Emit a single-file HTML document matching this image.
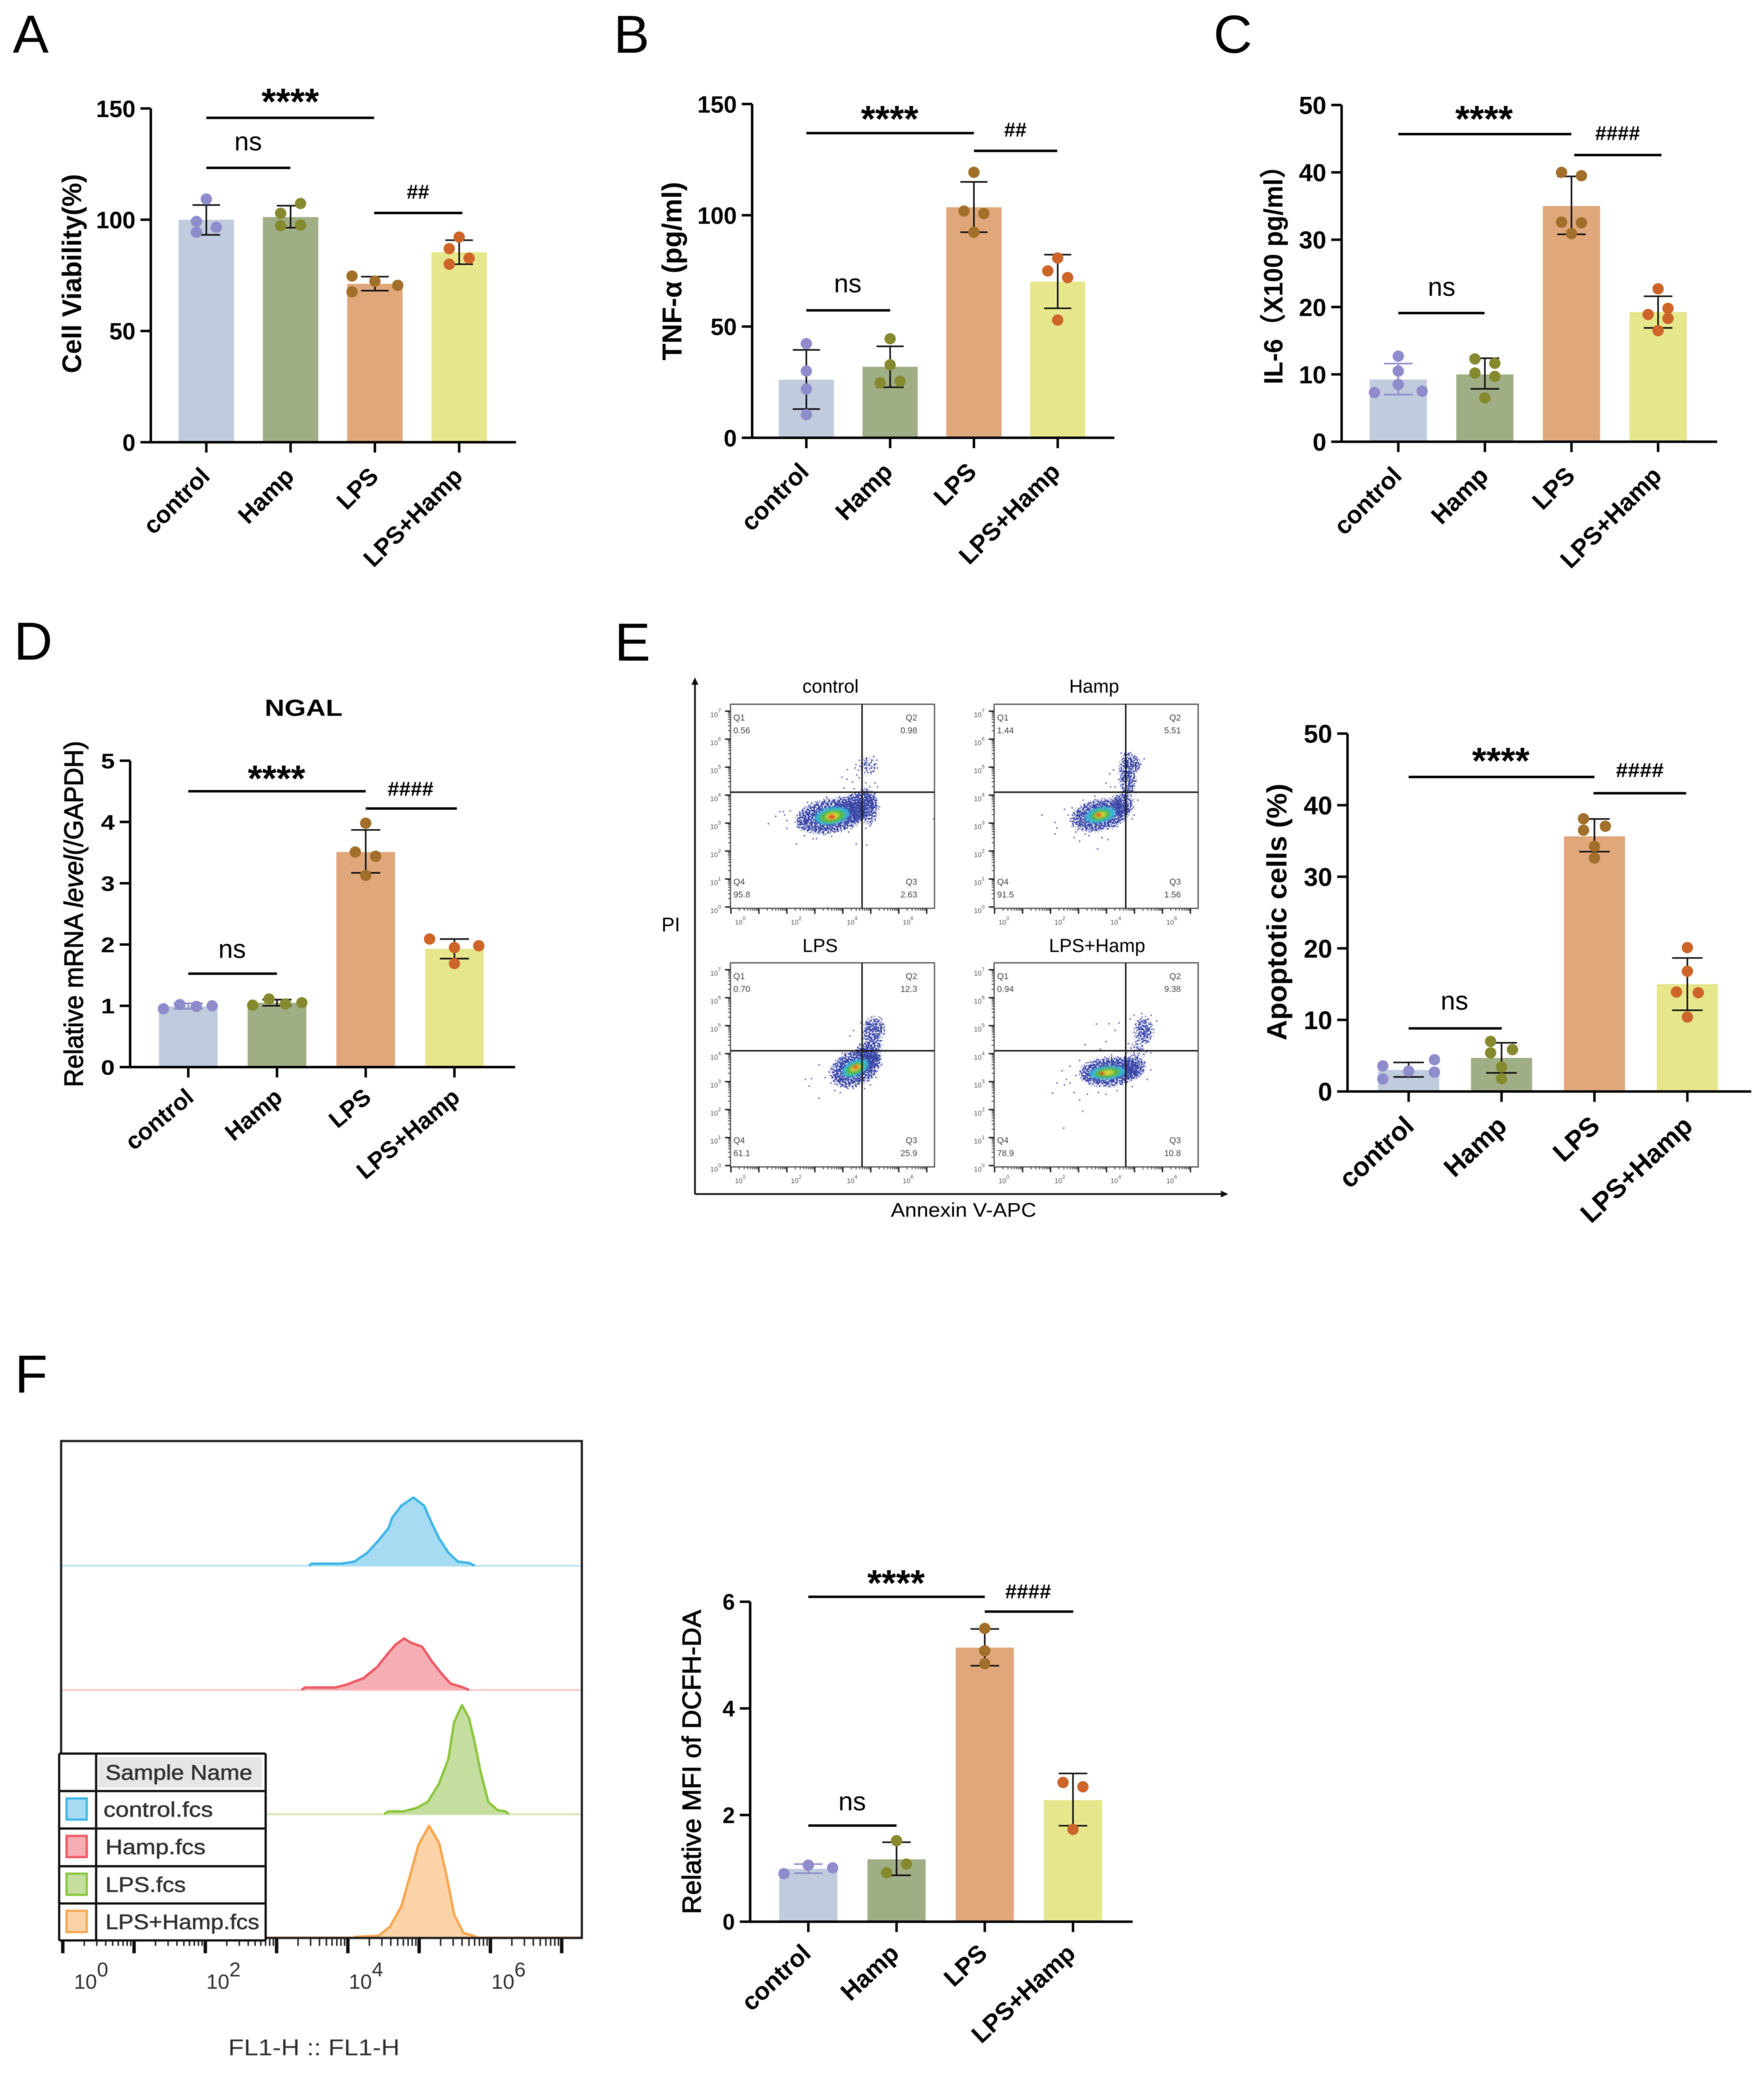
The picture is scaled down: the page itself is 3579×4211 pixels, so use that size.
<!DOCTYPE html>
<html lang="en">
<head>
<meta charset="utf-8">
<title>Multi-panel figure</title>
<style>
html,body{margin:0;padding:0;background:#fff}
svg{display:block;filter:blur(0.6px)}
text{font-family:"Liberation Sans","Noto Sans CJK SC",sans-serif}
</style>
</head>
<body>
<svg id="figure" xmlns="http://www.w3.org/2000/svg" width="3579" height="4211" viewBox="0 0 3579 4211">
<defs>
<filter id="speckle" x="-60%" y="-60%" width="220%" height="220%" color-interpolation-filters="sRGB">
<feGaussianBlur in="SourceAlpha" stdDeviation="8" result="soft"/>
<feTurbulence type="fractalNoise" baseFrequency="0.3" numOctaves="2" seed="4" result="noise"/>
<feColorMatrix in="noise" type="matrix" values="0 0 0 0 0  0 0 0 0 0  0 0 0 0 0  0 0 0 2.4 -0.7" result="grain"/>
<feComposite in="soft" in2="grain" operator="in" result="mixed"/>
<feColorMatrix in="mixed" type="matrix" values="0 0 0 0 0  0 0 0 0 0  0 0 0 0 0  0 0 0 10 -2.2" result="mask"/>
<feFlood flood-color="#3a46a8" result="ink"/>
<feComposite in="ink" in2="mask" operator="in"/>
</filter>
<filter id="soft-core" x="-60%" y="-60%" width="220%" height="220%"><feGaussianBlur stdDeviation="2.5"/></filter>
</defs>
<rect width="3579" height="4211" fill="#fff"/>
<text x="26" y="107" font-size="109">A</text>
<text x="1245" y="107" font-size="109">B</text>
<text x="2462" y="107" font-size="109">C</text>
<text x="28" y="1338" font-size="109">D</text>
<text x="1247" y="1340" font-size="109">E</text>
<text x="30" y="2825" font-size="109">F</text>
</svg>
<script>
// ---------- shared categories / colours ----------
const categories = ['control', 'Hamp', 'LPS', 'LPS+Hamp'];
const barColors = ['#c0cbdd', '#a0ae86', '#e0a77b', '#e6e68c'];
const dotColors = ['#8e8ccb', '#868a2f', '#a26f2a', '#cd6529'];

// ---------- panel A: cell viability ----------
const aTicks = [0, 50, 100, 150];
const aMeans = [100, 101.2, 71.2, 85.4];
const aLow = [93.2, 96.4, 68.1, 80];
const aHigh = [106.6, 106.3, 74.4, 90.8];
const aPoints = [[109.3, 99.2, 96.6, 94.4], [107.3, 102.9, 97.3, 97.6], [74.7, 72.4, 70.5, 67.6], [92.2, 87, 82.7, 80]];
const aSpread = [[0, -1, 1, -1], [1, -1, -1, 1], [-2.3, 0, 2.3, -2.3], [0, -1, 1, -1]];

// ---------- panel B: TNF-alpha ----------
const bTicks = [0, 50, 100, 150];
const bMeans = [26.1, 31.9, 103.6, 70.2];
const bLow = [12.9, 22.7, 92.4, 58.2];
const bHigh = [39.5, 41.1, 115, 82.3];
const bPoints = [[42.3, 30, 21.9, 10.4], [44.5, 32.8, 24.7, 25.4], [119.3, 101.9, 100.8, 92.4], [80.8, 75, 72, 52.9]];
const bSpread = [[0, 0, 0, 0], [0, 0, -1, 1], [0, -1, 1, 0], [0, -1, 1, 0]];

// ---------- panel C: IL-6 ----------
const cTicks = [0, 10, 20, 30, 40, 50];
const cMeans = [9.24, 10, 35, 19.25];
const cLow = [7, 7.85, 30.8, 16.9];
const cHigh = [11.6, 12.4, 39.4, 21.6];
const cPoints = [[12.7, 10.5, 8.5, 7.3, 7.5], [12.3, 11.65, 10.2, 9.7, 6.5], [40, 39.5, 32.6, 32.5, 30.9], [22.7, 19.8, 18.9, 18.3, 16.5]];
const cSpread = [[0, 0, 0, -2.4, 2.4], [-1, 1, -1, 1, 0], [-1, 1, -1, 1, 0], [0, 1, -1, 1, 0]];

// ---------- panel D: NGAL ----------
const dTicks = [0, 1, 2, 3, 4, 5];
const dMeans = [0.99, 1.05, 3.51, 1.93];
const dLow = [0.95, 1, 3.17, 1.77];
const dHigh = [1.04, 1.1, 3.87, 2.09];
const dPoints = [[0.95, 1.02, 0.99, 1], [1.01, 1.11, 1.03, 1.05], [3.98, 3.51, 3.44, 3.13], [2.09, 1.95, 1.98, 1.69]];
const dSpread = [[-2.5, -0.85, 0.8, 2.4], [-2.45, -0.8, 0.85, 2.5], [0, -1.05, 1, 0], [-2.5, 0, 2.45, 0]];

// ---------- panel E (bars): apoptotic cells ----------
const eTicks = [0, 10, 20, 30, 40, 50];
const eMeans = [3, 4.69, 35.65, 15];
const eLow = [2.03, 2.6, 33.5, 11.35];
const eHigh = [4.06, 6.8, 38.07, 18.65];
const ePoints = [[3.57, 4.44, 2.85, 2.7, 1.74], [7, 5.85, 5.4, 3.43, 1.79], [38.1, 37.05, 36.5, 34.25, 32.6], [20.1, 16.8, 13.9, 13.8, 10.4]];
const eSpread = [[-2.6, 2.6, 0, 2.6, -2.6], [-1.1, 1.1, -1.1, 0, 0], [-1.1, 1.1, -1.1, 0, 0], [0, 0, -1.1, 1.1, 0]];

// ---------- panel F (bars): MFI ----------
const fTicks = [0, 2, 4, 6];
const fMeans = [0.99, 1.17, 5.14, 2.28];
const fLow = [0.91, 0.87, 4.8, 1.8];
const fHigh = [1.08, 1.49, 5.49, 2.78];
const fPoints = [[0.9, 1.06, 1.01], [1.52, 1.08, 0.92], [5.5, 5.08, 4.84], [2.61, 2.53, 1.73]];
const fSpread = [[-2.45, 0, 2.45], [0, 1, -1], [0, 0, 0], [-1, 1, 0]];

// ---------- flow cytometry dot plots (log10 decades) ----------
const flowDecadeLabelsX = [0, 2, 4, 6];
const flowDecadeLabelsY = [0, 1, 2, 3, 4, 5, 6, 7];
const densityColors = ['#3a46a8', '#38b6d8', '#58b848', '#d8d838', '#e84820'];
const quadrantLabels = ['Q1', 'Q2', 'Q3', 'Q4'];
const controlQuadrants = ['0.56', '0.98', '2.63', '95.8'];
const hampQuadrants = ['1.44', '5.51', '1.56', '91.5'];
const lpsQuadrants = ['0.70', '12.3', '25.9', '61.1'];
const lpsHampQuadrants = ['0.94', '9.38', '10.8', '78.9'];
// density regions: centre x, centre y, spread x, spread y, tilt, density level, event density
const controlDensity = [
  [4.9, 5.05, 0.4, 0.4, 0, 0, 0.45], [4.88, 3.6, 0.42, 0.72, -10, 0, 0.6], [4.47, 3.59, 0.8, 0.5, -20, 0, 0.8], [3.6, 3.26, 1.3, 0.58, -10, 0, 0.95],
  [3.62, 3.26, 0.62, 0.3, -10, 1, 1], [3.62, 3.24, 0.45, 0.22, -10, 2, 1], [3.62, 3.25, 0.25, 0.13, -10, 3, 1], [3.6, 3.22, 0.12, 0.08, 0, 4, 1]];
const hampDensity = [
  [4.76, 4.76, 0.3, 0.85, 0, 0, 0.8], [4.92, 5.1, 0.32, 0.28, 0, 0, 0.95], [4.58, 3.69, 0.42, 0.42, 0, 0, 0.8], [3.78, 3.29, 1.05, 0.54, -12, 0, 0.95],
  [3.78, 3.29, 0.55, 0.27, -12, 1, 1], [3.78, 3.29, 0.35, 0.18, -12, 2, 1], [3.78, 3.29, 0.2, 0.1, -12, 3, 1], [3.72, 3.29, 0.1, 0.06, 0, 4, 1]];
const lpsDensity = [
  [5.05, 4.43, 0.36, 0.56, 0, 0, 0.72], [5.12, 4.9, 0.4, 0.42, 0, 0, 0.8], [4.92, 3.96, 0.46, 0.5, 0, 0, 0.85], [4.45, 3.49, 0.95, 0.6, -25, 0, 0.95],
  [4.45, 3.49, 0.5, 0.27, -25, 1, 1], [4.45, 3.47, 0.36, 0.18, -25, 2, 1], [4.45, 3.49, 0.2, 0.1, -25, 3, 1], [4.45, 3.52, 0.1, 0.06, 0, 4, 1]];
const lpsHampDensity = [
  [5.32, 4.83, 0.36, 0.52, 0, 0, 0.7], [5.1, 4.1, 0.42, 0.4, 0, 0, 0.45], [4.9, 3.5, 0.55, 0.4, -10, 0, 0.75], [4.11, 3.35, 1.1, 0.5, -5, 0, 0.95],
  [4.04, 3.32, 0.65, 0.23, -5, 1, 1], [4.04, 3.32, 0.45, 0.17, -5, 2, 1], [4.04, 3.32, 0.22, 0.09, -5, 3, 1], [3.84, 3.29, 0.1, 0.05, 0, 4, 1]];
const controlEvents = [[1.34,2.98],[1.6,3.24],[1.75,3.41],[1.88,3.41],[2.11,3.44],[1.92,3.29],[2,3.09],[2,2.81],[2.38,2.86],[2.56,2.79],[2.63,2.55],[2.94,2.44],[3.06,2.44],[2.34,2.26],[4.48,2.26],[4.85,2.21],[3.6,2.53],[3.38,2.6],[3.16,2.64],[4.21,2.68],[4.06,2.79],[4.97,2.89],[4.82,2.81],[5.31,3.58],[5.18,3.65],[5.24,4.29],[5.15,4.43],[4.97,4.29],[4.82,4.44],[4.59,4.62],[4.35,4.47],[4.15,4.57],[3.97,4.64],[4.47,5.09],[4.59,5.24],[4.85,5.26],[5.03,5.24],[5.11,5.38],[5.22,5.25],[5.24,4.97],[5.09,4.85],[5,4.82],[4.85,5.06],[5.18,5.12],[4.44,4.97],[4.16,4.91],[4.56,4.89],[4.5,4.72],[4.05,4.25],[4.41,4.22],[4.68,4.26],[5.15,4.06],[7.25,3.15],[3.46,-0.03],[2.74,3.74],[2.88,3.72],[3.41,3.93],[3.88,3.94]];
const hampEvents = [[1.69,3.29],[2.16,3.02],[2.16,2.61],[2.84,2.48],[3.04,2.35],[3.68,2.08],[2.23,2.82],[2.63,3.29],[2.77,2.88],[2.9,2.68],[3.37,2.55],[4.05,2.41],[4.38,2.88],[4.99,3.29],[5.12,3.82],[4.81,3.49],[4.92,3.15],[3.98,4.43],[4.11,4.76],[4.25,4.9],[4.31,4.29],[4.52,5.5],[5.35,5.3],[5.16,5.1],[5.05,5.37],[4.45,4.56],[5.05,4.09],[4.99,4.63],[4.52,5.1],[4.65,5.44],[4.99,5.4],[4.14,4.29],[2.77,3.55],[3.17,3.82],[3.58,3.96],[2.7,3.08],[2.97,2.75],[2.5,3.49],[3.24,2.61],[3.84,2.48]];
const lpsEvents = [[2.66,3.08],[2.88,3.11],[2.8,2.84],[3.15,3.6],[3.15,2.41],[3.37,3.15],[3.58,2.95],[3.71,2.68],[3.91,2.61],[4.18,2.75],[4.78,2.75],[5.19,3.15],[5.39,3.62],[5.46,4.7],[5.39,5.24],[5.32,5.3],[4.38,4.83],[4.25,4.63],[4.31,4.09],[4.65,5.1],[4.72,4.76],[5.52,4.09],[3.98,4.03],[4.38,-0.07],[3.51,3.35],[3.64,3.15],[4.11,2.82],[4.38,2.75],[4.99,2.88],[5.26,3.76]];
const lpsHampEvents = [[2.07,2.59],[2.47,1.34],[3.15,1.94],[2.23,2.95],[2.5,2.88],[2.41,3.39],[2.7,3.55],[3.24,4.32],[3.64,5.06],[4.09,5.07],[3.78,4.16],[3.98,4.43],[4.31,4.83],[4.45,5.1],[4.85,5.24],[4.99,5.37],[5.26,5.44],[5.59,5.37],[5.79,5.17],[5.59,4.03],[5.46,4.09],[4.78,4.36],[5.05,4.43],[5.52,4.43],[5.19,4.16],[4.65,3.89],[4.18,3.96],[3.04,3.76],[2.84,2.61],[3.04,2.35],[3.31,2.55],[3.71,2.61],[3.98,2.55],[4.38,2.68],[4.92,2.82],[5.46,3.08],[5.59,3.42],[2.7,2.95],[2.57,3.08],[2.9,3.22]];

// ---------- histogram overlay (decade, count) ----------
const histDecadeLabels = [0, 2, 4, 6];
const histSamples = ['control.fcs', 'Hamp.fcs', 'LPS.fcs', 'LPS+Hamp.fcs'];
const histControlX = [3.455, 3.49, 3.9, 4.09, 4.275, 4.43, 4.57, 4.62, 4.75, 4.92, 5.07, 5.17, 5.28, 5.41, 5.545, 5.7, 5.78];
const histControlY = [0, 5, 5, 10, 32, 62, 92, 117, 147, 167, 147, 107, 67, 32, 10, 7, 0];
const histHampX = [3.35, 3.4, 3.825, 3.98, 4.22, 4.41, 4.57, 4.67, 4.79, 4.88, 5.04, 5.175, 5.31, 5.44, 5.62, 5.7];
const histHampY = [0, 6, 6, 13, 29, 56, 91, 111, 126, 116, 106, 71, 41, 16, 6, 0];
const histLpsX = [4.51, 4.57, 4.78, 4.96, 5.12, 5.28, 5.41, 5.49, 5.6, 5.7, 5.78, 5.86, 5.97, 6.1, 6.21, 6.26];
const histLpsY = [0, 7, 7, 15, 30, 75, 135, 225, 267, 235, 175, 105, 30, 10, 7, 0];
const histLpsHampX = [4.09, 4.43, 4.59, 4.75, 4.88, 4.99, 5.14, 5.28, 5.39, 5.49, 5.62, 5.81];
const histLpsHampY = [0, 3, 25, 75, 155, 225, 272, 230, 145, 55, 10, 0];

// ---------- drawing helpers ----------
const NS = 'http://www.w3.org/2000/svg';
const root = document.getElementById('figure');
function mk(parent, tag, attrs) {
  const el = document.createElementNS(NS, tag);
  for (const k in attrs) el.setAttribute(k, attrs[k]);
  parent.appendChild(el);
  return el;
}
function slug(s) { return s.toLowerCase().replace(/\+/g, '-plus-').replace(/[^a-z0-9]+/g, '-'); }

function drawSupLabel(parent, x, y, base, sup, size, supSize, raise, fill, anchor) {
  const t = mk(parent, 'text', { x: x, y: y, 'font-size': size, fill: fill, 'text-anchor': anchor });
  
  
  t.appendChild(document.createTextNode(base));
  const s = mk(t, 'tspan', { dy: -raise, 'font-size': supSize });
  s.textContent = sup;
}

function drawBarPanel(p) {
  const g = mk(root, 'g', {});
  
  
  const yS = v => p.y0 - v * (p.y0 - p.yTop) / p.yMax;
  const xS = i => p.first + i * p.step;
  const dotR = 11.5;
  const spreadUnit = 20.16;

  categories.forEach((cat, i) => {
    const bar = mk(g, 'rect', { x: xS(i) - p.barW / 2, y: yS(p.means[i]), width: p.barW, height: p.y0 - yS(p.means[i]), fill: barColors[i] });
    
    
    const ec = (i === 0 && p.ctrlErr) ? p.ctrlErr : '#111';
    const eb = mk(g, 'path', {
      d: 'M' + xS(i) + ' ' + yS(p.low[i]) + 'V' + yS(p.high[i]) +
        'M' + (xS(i) - p.capHalf) + ' ' + yS(p.high[i]) + 'H' + (xS(i) + p.capHalf) +
        'M' + (xS(i) - p.capHalf) + ' ' + yS(p.low[i]) + 'H' + (xS(i) + p.capHalf),
      stroke: ec, 'stroke-width': 3.2, fill: 'none'
    });
    
    
    p.points[i].forEach((v, j) => {
      const c = mk(g, 'circle', { cx: xS(i) + p.spread[i][j] * spreadUnit, cy: yS(v), r: dotR, fill: dotColors[i] });
      
      
    });
  });

  const axes = mk(g, 'path', {
    d: 'M' + p.axisX + ' ' + p.yTop + 'V' + p.y0 + 'M' + (p.axisX - 21) + ' ' + p.y0 + 'H' + p.xEnd,
    stroke: '#000', 'stroke-width': 5, fill: 'none'
  });
  
  

  p.ticks.forEach(v => {
    const tk = mk(g, 'line', { x1: p.axisX - 21, x2: p.axisX, y1: yS(v), y2: yS(v), stroke: '#000', 'stroke-width': 5 });
    
    
    const tl = mk(g, 'text', {
      transform: 'translate(' + (p.axisX - 31) + ',' + (yS(v) + p.tickSize * 0.36) + ') scale(' + (p.tickSx || 1) + ',1)',
      'font-size': p.tickSize, 'font-weight': 'bold', 'text-anchor': 'end'
    });
    
    
    tl.textContent = String(v);
  });

  categories.forEach((cat, i) => {
    const tk = mk(g, 'line', { x1: xS(i), x2: xS(i), y1: p.y0, y2: p.y0 + 21, stroke: '#000', 'stroke-width': 5 });
    
    
    const tl = mk(g, 'text', {
      transform: 'translate(' + (xS(i) + p.labelDx) + ',' + (p.y0 + p.labelDy) + ') rotate(' + p.labelAngle + ')',
      'font-size': p.labelSize, 'font-weight': 'bold', 'text-anchor': 'end'
    });
    
    
    tl.textContent = cat;
  });

  const title = mk(g, 'text', {
    transform: 'translate(' + (p.titleX + p.titleSize * 0.35) + ',' + p.titleY + ') rotate(-90)',
    'font-size': p.titleSize, 'text-anchor': 'middle', 'font-weight': p.titleMedium ? 'normal' : 'bold',
    textLength: p.titleLen, lengthAdjust: 'spacingAndGlyphs'
  });
  if (p.titleMedium) { title.setAttribute('stroke', '#000'); title.setAttribute('stroke-width', '1.2'); }
  
  
  p.title.forEach(seg => {
    const s = mk(title, 'tspan', seg.i ? { 'font-style': 'italic' } : {});
    s.textContent = seg.t;
  });

  p.sig.forEach(s => {
    const ln = mk(g, 'line', { x1: s.x1, x2: s.x2, y1: s.y, y2: s.y, stroke: '#000', 'stroke-width': 5 });
    
    
    const isStar = s.label.indexOf('*') === 0;
    const isNs = s.label === 'ns';
    const size = isStar ? 75 : isNs ? 53 : 41;
    const base = s.cy + (isStar ? 37 : 14);
    const attrs = { x: s.cx, y: base, 'font-size': size, 'text-anchor': 'middle', 'font-weight': isNs ? 'normal' : 'bold' };
    if (s.len) { attrs.textLength = s.len; attrs.lengthAdjust = 'spacingAndGlyphs'; }
    const t = mk(g, 'text', attrs);
    
    
    t.textContent = s.label;
  });
}

drawBarPanel({ id: 'cell-viability', means: aMeans, low: aLow, high: aHigh, points: aPoints, spread: aSpread, ticks: aTicks, yMax: 150,
  axisX: 306, y0: 897, yTop: 220, xEnd: 1047, first: 418.6, step: 171, barW: 112.5, capHalf: 28, tickSize: 48,
  labelDx: 10, labelDy: 72, labelAngle: -45, labelSize: 49,
  title: [{ t: 'Cell Viability(%)' }], titleX: 145, titleY: 555, titleSize: 55, titleLen: 404,
  sig: [{ x1: 418.6, x2: 759, y: 239, label: '****', cx: 589, cy: 195 },
        { x1: 418.6, x2: 589, y: 340.5, label: 'ns', cx: 503.5, cy: 291 },
        { x1: 759, x2: 938, y: 432, label: '##', cx: 848, cy: 389 }] });

drawBarPanel({ id: 'tnf-alpha', means: bMeans, low: bLow, high: bHigh, points: bPoints, spread: bSpread, ticks: bTicks, yMax: 150,
  axisX: 1526, y0: 888, yTop: 211, xEnd: 2261, first: 1636, step: 170, barW: 112, capHalf: 27.5, tickSize: 48,
  labelDx: 8, labelDy: 72, labelAngle: -45, labelSize: 50,
  title: [{ t: 'TNF-α (pg/ml)' }], titleX: 1363, titleY: 550, titleSize: 56, titleLen: 362,
  sig: [{ x1: 1636, x2: 1976, y: 270, label: '****', cx: 1805, cy: 230 },
        { x1: 1636, x2: 1806, y: 629.5, label: 'ns', cx: 1720, cy: 579 },
        { x1: 1976, x2: 2145, y: 306, label: '##', cx: 2060, cy: 263 }] });

drawBarPanel({ id: 'il-6', means: cMeans, low: cLow, high: cHigh, points: cPoints, spread: cSpread, ticks: cTicks, yMax: 50, ctrlErr: '#8e8ccb',
  axisX: 2722, y0: 896, yTop: 213, xEnd: 3484, first: 2837, step: 175.7, barW: 116, capHalf: 29, tickSize: 50,
  labelDx: 10, labelDy: 72, labelAngle: -45, labelSize: 50,
  title: [{ t: 'IL-6（X100 pg/ml）' }], titleX: 2583, titleY: 545, titleSize: 54, titleLen: 469,
  sig: [{ x1: 2837, x2: 3188, y: 272, label: '****', cx: 3011, cy: 230 },
        { x1: 2837, x2: 3012, y: 635, label: 'ns', cx: 2925, cy: 586 },
        { x1: 3194, x2: 3371, y: 314.5, label: '####', cx: 3282, cy: 270, len: 91 }] });

drawBarPanel({ id: 'ngal', means: dMeans, low: dLow, high: dHigh, points: dPoints, spread: dSpread, ticks: dTicks, yMax: 5, ctrlErr: '#8e8ccb',
  axisX: 264, y0: 2164.5, yTop: 1543, xEnd: 1045, first: 382, step: 180, barW: 119, capHalf: 29.5, tickSize: 43, tickSx: 1.18,
  labelDx: 14, labelDy: 66, labelAngle: -40, labelSize: 48,
  title: [{ t: 'Relative mRNA ' }, { t: 'level', i: true }, { t: '(/GAPDH)' }], titleMedium: true, titleX: 149, titleY: 1854, titleSize: 54, titleLen: 702,
  sig: [{ x1: 382, x2: 742, y: 1605, label: '****', cx: 561, cy: 1568 },
        { x1: 382, x2: 562, y: 1975, label: 'ns', cx: 471, cy: 1929 },
        { x1: 742, x2: 927, y: 1640, label: '####', cx: 833, cy: 1600, len: 93 }] });

drawBarPanel({ id: 'apoptotic-cells', means: eMeans, low: eLow, high: eHigh, points: ePoints, spread: eSpread, ticks: eTicks, yMax: 50,
  axisX: 2734, y0: 2214, yTop: 1488, xEnd: 3553, first: 2858, step: 188.5, barW: 124, capHalf: 31, tickSize: 52,
  labelDx: 14, labelDy: 74, labelAngle: -43, labelSize: 54,
  title: [{ t: 'Apoptotic cells (%)' }], titleX: 2590, titleY: 1850, titleSize: 57, titleLen: 521,
  sig: [{ x1: 2858, x2: 3235, y: 1576, label: '****', cx: 3045, cy: 1532 },
        { x1: 2858, x2: 3047, y: 2086, label: 'ns', cx: 2951, cy: 2034 },
        { x1: 3233, x2: 3421, y: 1609, label: '####', cx: 3327, cy: 1562, len: 97 }] });

drawBarPanel({ id: 'dcfh-mfi', means: fMeans, low: fLow, high: fHigh, points: fPoints, spread: fSpread, ticks: fTicks, yMax: 6, ctrlErr: '#8e8ccb',
  axisX: 1522, y0: 3898, yTop: 3249, xEnd: 2298, first: 1640, step: 179, barW: 118, capHalf: 29, tickSize: 45,
  labelDx: 8, labelDy: 68, labelAngle: -43, labelSize: 50,
  title: [{ t: 'Relative MFI of DCFH-DA' }], titleMedium: true, titleX: 1403, titleY: 3574, titleSize: 53, titleLen: 617,
  sig: [{ x1: 1640, x2: 1998, y: 3239, label: '****', cx: 1818, cy: 3200 },
        { x1: 1640, x2: 1819, y: 3703, label: 'ns', cx: 1729, cy: 3658 },
        { x1: 1998, x2: 2177.5, y: 3269, label: '####', cx: 2086, cy: 3228, len: 93 }] });

// ---------- flow dot plots ----------
const flowPanels = [
  { title: 'control', left: 1482, top: 1428.5, titleX: 1685, titleY: 1405, q: controlQuadrants, density: controlDensity, events: controlEvents },
  { title: 'Hamp', left: 2017, top: 1428.5, titleX: 2220, titleY: 1405, q: hampQuadrants, density: hampDensity, events: hampEvents },
  { title: 'LPS', left: 1482, top: 1953, titleX: 1664, titleY: 1931, q: lpsQuadrants, density: lpsDensity, events: lpsEvents },
  { title: 'LPS+Hamp', left: 2017, top: 1953, titleX: 2226, titleY: 1931, q: lpsHampQuadrants, density: lpsHampDensity, events: lpsHampEvents }
];
flowPanels.forEach(fp => {
  const g = mk(root, 'g', {});
  
  
  const W = 414, H = 414, decade = 56.75;
  const xS = d => fp.left + 1 + d * decade;
  const yS = d => fp.top + H - 2.7 - d * decade;

  const tt = mk(g, 'text', { x: fp.titleX, y: fp.titleY, 'font-size': 38, 'text-anchor': 'middle' });
  
  
  tt.textContent = fp.title;

  fp.density.forEach(b => {
    const e = mk(g, 'ellipse', {
      cx: xS(b[0]), cy: yS(b[1]), rx: b[2] * decade, ry: b[3] * decade,
      fill: densityColors[b[5]], 'fill-opacity': b[6],
      filter: b[5] === 0 ? 'url(#speckle)' : 'url(#soft-core)',
      transform: 'rotate(' + b[4] + ' ' + xS(b[0]) + ' ' + yS(b[1]) + ')'
    });
    
    
  });
  fp.events.forEach(ev => {
    const r = mk(g, 'rect', { x: xS(ev[0]) - 1.5, y: yS(ev[1]) - 1.5, width: 3, height: 3, fill: '#3b3fa5', opacity: 0.75 });
    
    
  });

  const box = mk(g, 'rect', { x: fp.left, y: fp.top, width: W, height: H, fill: 'none', stroke: '#555', 'stroke-width': 2.5 });
  
  
  const qv = mk(g, 'line', { x1: fp.left + W * 0.645, x2: fp.left + W * 0.645, y1: fp.top, y2: fp.top + H, stroke: '#1a1a1a', 'stroke-width': 3 });
  
  
  const qh = mk(g, 'line', { x1: fp.left, x2: fp.left + W, y1: fp.top + H * 0.431, y2: fp.top + H * 0.431, stroke: '#1a1a1a', 'stroke-width': 3 });
  
  

  quadrantLabels.forEach((q, i) => {
    const right = (i === 1 || i === 2);
    const bottom = (i === 2 || i === 3);
    const x = right ? fp.left + 379 : fp.left + 6;
    const yA = fp.top + (bottom ? 360 : 27) + 6;
    const yB = fp.top + (bottom ? 386 : 53) + 6;
    const a = mk(g, 'text', { x: x, y: yA, 'font-size': 17.5, fill: '#444', 'text-anchor': right ? 'end' : 'start' });
    
    
    a.textContent = q;
    const b = mk(g, 'text', { x: x, y: yB, 'font-size': 17.5, fill: '#444', 'text-anchor': right ? 'end' : 'start' });
    
    
    b.textContent = fp.q[i];
  });

  let tickD = '', minorD = '';
  for (let d = 0; d <= 7; d++) {
    tickD += 'M' + xS(d) + ' ' + (fp.top + H) + 'v11M' + fp.left + ' ' + yS(d) + 'h-11';
    for (let m = 2; m <= 9; m++) {
      const off = d + Math.log10(m);
      if (off <= 7.2) minorD += 'M' + xS(off) + ' ' + (fp.top + H) + 'v5';
      if (off <= 7.2) minorD += 'M' + fp.left + ' ' + yS(off) + 'h-5';
    }
  }
  const tma = mk(g, 'path', { d: tickD, stroke: '#222', 'stroke-width': 2.8 });
  
  
  const tmi = mk(g, 'path', { d: minorD, stroke: '#444', 'stroke-width': 1.8 });
  
  

  flowDecadeLabelsX.forEach(d => {
    drawSupLabel(g, xS(d) + 8, fp.top + H + 33, '10', String(d), 14, 11, 9, '#555', 'start');
  });
  flowDecadeLabelsY.forEach(d => {
    drawSupLabel(g, fp.left - 41, yS(d) + 12, '10', String(d), 14, 11, 9, '#555', 'start');
  });
});

const flowAxes = mk(root, 'path', { d: 'M1410 2422V1384M1410 2422H2482', stroke: '#111', 'stroke-width': 3.5, fill: 'none' });


const flowArrows = mk(root, 'path', { d: 'M1410 1374l-7 15h14zM2492 2422l-15 -7v14z', fill: '#111' });


const piLabel = mk(root, 'text', { x: 1361, y: 1889, 'font-size': 40, 'text-anchor': 'middle' });


piLabel.textContent = 'PI';
const annexinLabel = mk(root, 'text', { x: 1955, y: 2468, 'font-size': 40, 'text-anchor': 'middle', textLength: 295, lengthAdjust: 'spacingAndGlyphs' });


annexinLabel.textContent = 'Annexin V-APC';

// ---------- histogram overlay ----------
(function () {
  const g = mk(root, 'g', {});
  
  
  const left = 124, right = 1180.5, top = 2923, bottom = 3931;
  const xS = d => 127.4 + d * 144.6;
  const hS = c => c * 0.829;
  const series = [
    { xs: histControlX, ys: histControlY, base: 3176, fill: '#a6dbf2', line: '#3fb6e8', pale: '#bfe6f5' },
    { xs: histHampX, ys: histHampY, base: 3428, fill: '#f5aeb3', line: '#ee5a64', pale: '#f9ccd0' },
    { xs: histLpsX, ys: histLpsY, base: 3680, fill: '#c5dea0', line: '#8cc63f', pale: '#d5e8bb' },
    { xs: histLpsHampX, ys: histLpsHampY, base: 3929, fill: '#fcd3a8', line: '#f9a650', pale: '#fcdcbc' }
  ];
  series.forEach((s, i) => {
    const bl = mk(g, 'line', { x1: left, x2: right, y1: s.base, y2: s.base, stroke: s.pale, 'stroke-width': 4 });
    
    
    let d = '';
    s.xs.forEach((x, j) => { d += (j ? 'L' : 'M') + xS(x).toFixed(1) + ' ' + (s.base - hS(s.ys[j])).toFixed(1); });
    const area = mk(g, 'path', { d: d + 'Z', fill: s.fill });
    
    
    const ln = mk(g, 'path', { d: d, fill: 'none', stroke: s.line, 'stroke-width': 5, 'stroke-linejoin': 'round' });
    
    
  });
  const frame = mk(g, 'rect', { x: left, y: top, width: right - left, height: bottom - top, fill: 'none', stroke: '#222', 'stroke-width': 4.5 });
  
  
  let maj = '', min = '';
  for (let d = 0; d <= 7; d++) {
    maj += 'M' + xS(d) + ' ' + bottom + 'v31';
    for (let m = 2; m <= 9; m++) {
      const off = d + Math.log10(m);
      if (xS(off) < right) min += 'M' + xS(off) + ' ' + bottom + 'v16';
    }
  }
  const tmaj = mk(g, 'path', { d: maj, stroke: '#111', 'stroke-width': 7 });
  
  
  const tmin = mk(g, 'path', { d: min, stroke: '#222', 'stroke-width': 3 });
  
  
  histDecadeLabels.forEach(d => {
    drawSupLabel(g, Math.max(xS(d) + 2, 150), 4034, '10', String(d), 42, 41, 25, '#333', 'start');
  });
  const xt = mk(g, 'text', { x: 637, y: 4169, 'font-size': 46, 'text-anchor': 'middle', fill: '#333', textLength: 348, lengthAdjust: 'spacingAndGlyphs' });
  
  
  xt.textContent = 'FL1-H :: FL1-H';

  // legend table
  const lg = mk(g, 'g', {});
  
  
  const lx1 = 120, lx2 = 539, div = 195;
  const rowEdges = [3557, 3633, 3709, 3785.5, 3861, 3936];
  const bg = mk(lg, 'rect', { x: lx1, y: rowEdges[0], width: lx2 - lx1, height: rowEdges[5] - rowEdges[0], fill: '#fff' });
  
  
  const hd = mk(lg, 'rect', { x: 199, y: 3564, width: 333, height: 62, fill: '#e6e6e6' });
  
  
  const grid = mk(lg, 'path', {
    d: rowEdges.map(y => 'M' + lx1 + ' ' + y + 'H' + lx2).join('') + 'M' + lx1 + ' ' + rowEdges[0] + 'V' + rowEdges[5] + 'M' + div + ' ' + rowEdges[0] + 'V' + rowEdges[5] + 'M' + lx2 + ' ' + rowEdges[0] + 'V' + rowEdges[5],
    stroke: '#111', 'stroke-width': 4.5, fill: 'none'
  });
  
  
  const head = mk(lg, 'text', { x: 214, y: 3610, 'font-size': 43, fill: '#333', stroke: '#333', 'stroke-width': 0.8, textLength: 298, lengthAdjust: 'spacingAndGlyphs' });
  
  
  head.textContent = 'Sample Name';
  const lens = [222, 203, 163, 312];
  const starts = [210, 214, 214, 214];
  histSamples.forEach((name, i) => {
    const top2 = rowEdges[i + 1];
    const sw = mk(lg, 'rect', { x: 135, y: top2 + 15, width: 41, height: 43, fill: series[i].fill, stroke: series[i].line, 'stroke-width': 4.5 });
    
    
    const t = mk(lg, 'text', { x: starts[i], y: top2 + 52, 'font-size': 43, fill: '#333', stroke: '#333', 'stroke-width': 0.7, textLength: lens[i], lengthAdjust: 'spacingAndGlyphs' });
    
    
    t.textContent = name;
  });
})();

// ---------- NGAL panel title ----------
const ngalTitle = mk(root, 'text', { x: 616, y: 1452, 'font-size': 47, 'font-weight': 'bold', 'text-anchor': 'middle', textLength: 158, lengthAdjust: 'spacingAndGlyphs' });


ngalTitle.textContent = 'NGAL';
</script>
</body>
</html>
